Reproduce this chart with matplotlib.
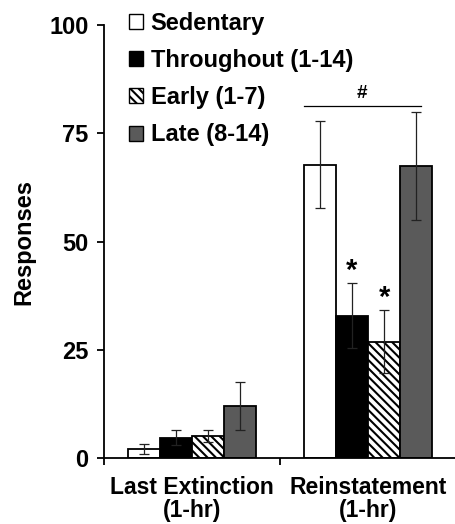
import numpy as np
import matplotlib.pyplot as plt
from matplotlib.patches import Patch

plt.rcParams['font.family'] = ['Liberation Sans', 'DejaVu Sans']
plt.rcParams['font.weight'] = 'bold'
plt.rcParams['hatch.linewidth'] = 1.5

# dados
categorias = ["Last Extinction\n(1-hr)", "Reinstatement\n(1-hr)"]
grupos = ["Sedentary", "Throughout (1-14)", "Early (1-7)", "Late (8-14)"]
medias = {
    "Sedentary": [2.1, 67.8],
    "Throughout (1-14)": [4.8, 32.9],
    "Early (1-7)": [5.1, 26.9],
    "Late (8-14)": [12.1, 67.5],
}
erros = {
    "Sedentary": [1.1, 10.1],
    "Throughout (1-14)": [1.8, 7.5],
    "Early (1-7)": [1.4, 7.3],
    "Late (8-14)": [5.6, 12.4],
}
cores = ["#ffffff", "#000000", "#ffffff", "#5a5a5a"]
hachuras = [None, None, "\\\\\\\\", None]

fig = plt.figure(figsize=(4.56, 5.24), dpi=100)
ax = fig.add_axes([104 / 456, 1 - 458.3 / 524, 1 - 104 / 456, (458.3 - 25) / 524])

x = np.arange(len(categorias))
largura = 0.183

for i, g in enumerate(grupos):
    pos = x + (i - 1.5) * largura
    ax.bar(pos, medias[g], width=largura, color=cores[i], edgecolor="black",
           linewidth=1.3, hatch=hachuras[i], zorder=2)
    ax.errorbar(pos, medias[g], yerr=erros[g], fmt="none", ecolor="#222222",
                elinewidth=0.9, capsize=3.5, capthick=0.9, zorder=3)

# asteriscos
for i in [1, 2]:
    g = grupos[i]
    pos = x[1] + (i - 1.5) * largura
    ax.text(pos, medias[g][1] + erros[g][1] - 0.5, "*", ha="center", va="bottom",
            fontsize=21, fontweight="bold")

# linha com #
x_ini = x[1] - 1.5 * largura - largura / 2
x_fim = x[1] + 1.5 * largura + 0.15 * largura
ax.plot([x_ini, x_fim], [81.3, 81.3], color="black", lw=0.9, clip_on=False)
ax.text((x_ini + x_fim) / 2, 82.3, "#", ha="center", va="bottom", fontsize=13.5, fontweight="bold")

ax.set_xlim(-0.5, -0.5 + 352 / 178)
ax.set_ylim(0, 100)
ax.set_yticks([0, 25, 50, 75, 100])
ax.set_xticks(x)
ax.set_xticklabels(categorias, fontsize=16.5, fontweight="bold", linespacing=1.0)
ax.set_xticks([-0.5, 0.5, 1.5], minor=True)
ax.tick_params(axis="x", which="major", length=0, pad=13)
ax.tick_params(axis="x", which="minor", length=5, width=1.3, direction="out")
ax.tick_params(axis="y", length=5, width=1.3, direction="out", labelsize=17, pad=6)
ax.set_ylabel("Responses", fontsize=17, fontweight="bold")
ax.yaxis.set_label_coords(-0.196, 0.5)

for s in ["top", "right"]:
    ax.spines[s].set_visible(False)
for s in ["left", "bottom"]:
    ax.spines[s].set_linewidth(1.3)

handles = [Patch(facecolor=cores[i], edgecolor="black", hatch=hachuras[i], linewidth=1.0)
           for i in range(len(grupos))]
ax.legend(handles, grupos, loc="upper left", bbox_to_anchor=(0.044, 1.052),
          frameon=False, fontsize=17, handlelength=0.6, handleheight=0.6,
          handletextpad=0.32, labelspacing=0.6, borderaxespad=0)

fig.savefig("out.png", dpi=100)
